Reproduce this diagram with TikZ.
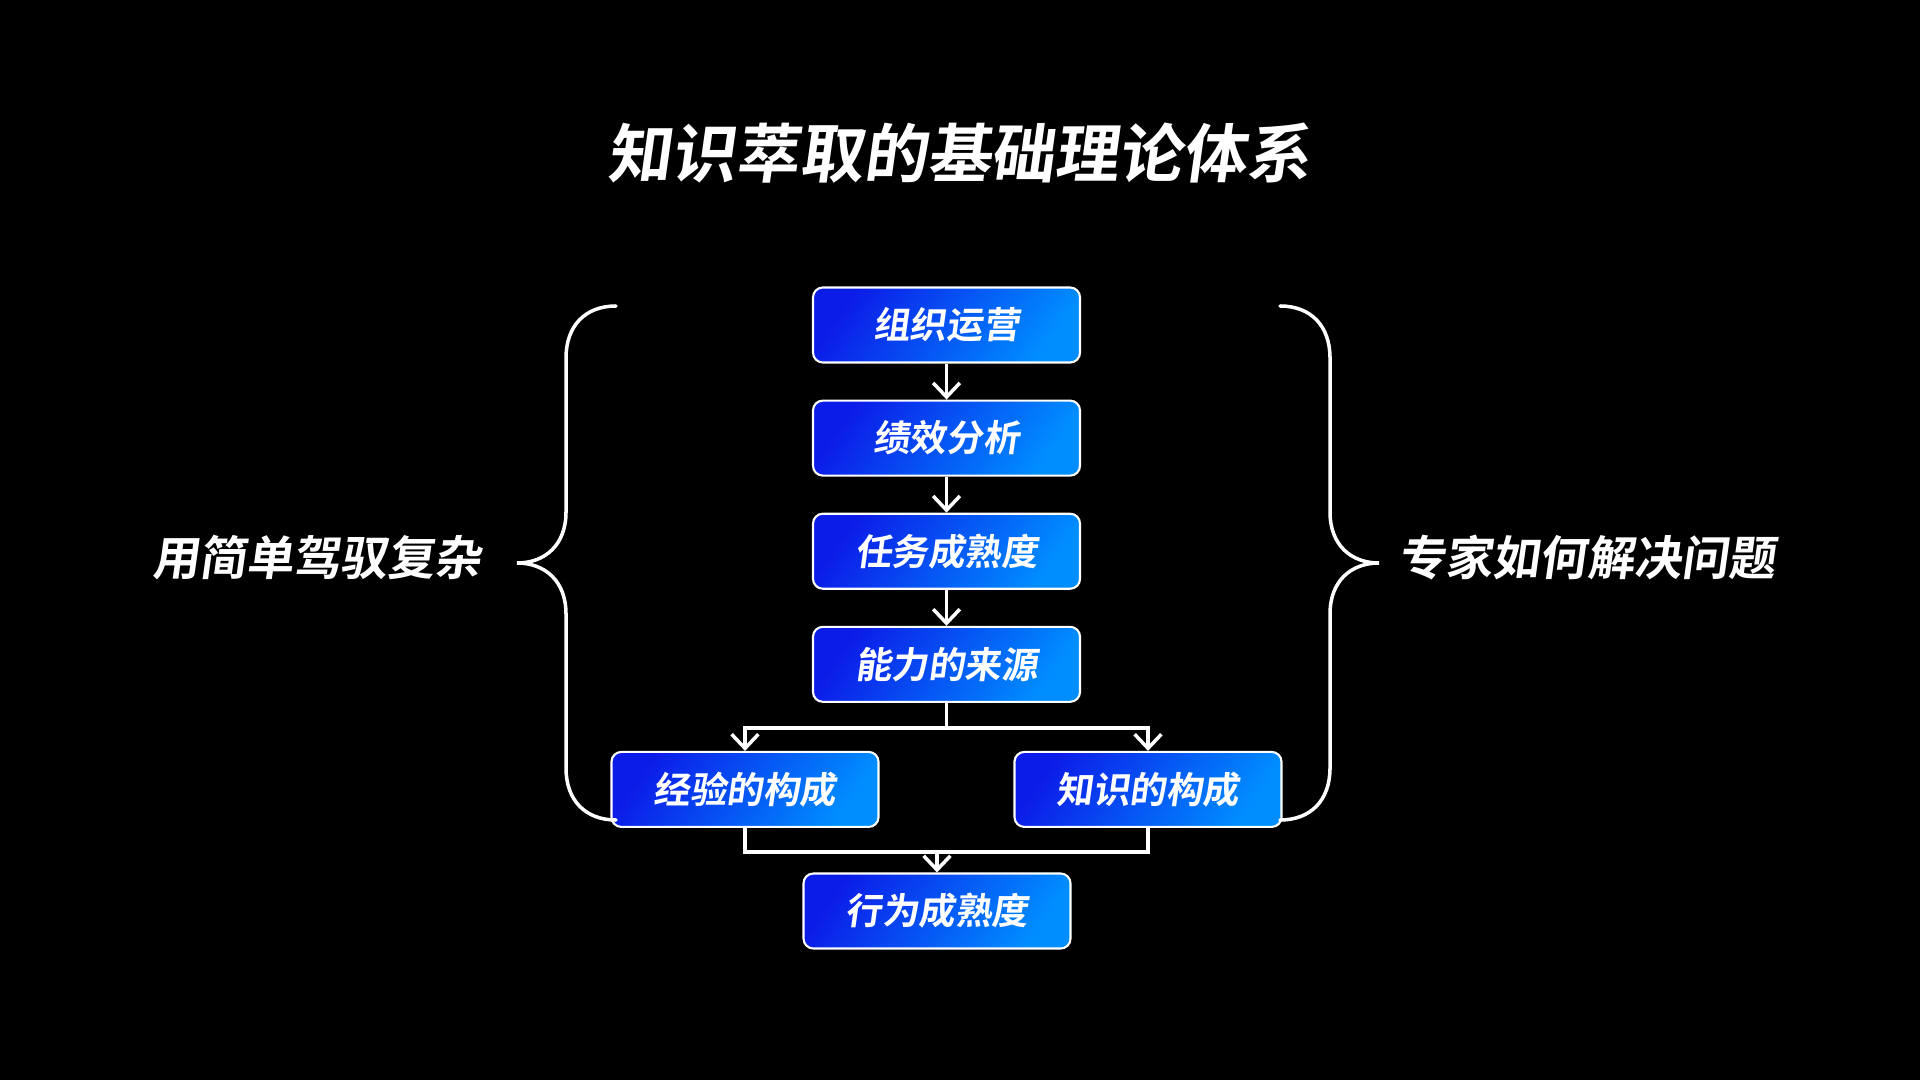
\documentclass[tikz,border=0pt]{standalone}
\usepackage{fontspec}
\usepackage{xcolor}
\usepackage{tikz}
\usetikzlibrary{arrows.meta, positioning, calc}
\newfontfamily\cjk[FakeSlant=0.14]{Noto Sans CJK SC Bold}
\definecolor{bgblack}{RGB}{0, 0, 0}
\definecolor{boxdeep}{RGB}{12, 28, 232}
\definecolor{boxlight}{RGB}{0, 142, 255}
\tikzset{
    stepbox/.style={rectangle, rounded corners=2.8pt, draw=white, line width=0.6pt, left color=boxdeep, right color=boxlight, shading angle=55, minimum width=2.67cm, minimum height=0.75cm, inner sep=0pt, text=white, font=\cjk\fontsize{10.4}{12}\selectfont},
    heading/.style={text=white, font=\cjk\fontsize{18.2}{22}\selectfont},
    sidetext/.style={text=white, font=\cjk\fontsize{13.4}{16}\selectfont},
    arrow/.style={white, line width=1pt, ->, >={Straight Barb[length=4pt, width=7.6pt]}},
    link/.style={white, line width=1pt},
    brace/.style={white, line width=1pt, line cap=round}
}
\begin{document}
\begin{tikzpicture}[node distance=0.36cm]
    \fill[bgblack] (0,0) rectangle (19.2,-10.8);
    \useasboundingbox (0,0) rectangle (19.2,-10.8);

    \node (title) [heading] at (9.59,-1.53) {知识萃取的基础理论体系};

    % main column
    \node (org) [stepbox] at (9.465,-3.25) {组织运营};
    \node (perf) [stepbox, below=of org] {绩效分析};
    \node (task) [stepbox, below=of perf] {任务成熟度};
    \node (ability) [stepbox, below=of task] {能力的来源};
    \node (exp) [stepbox, below=0.48cm of ability, xshift=-2.015cm] {经验的构成};
    \node (know) [stepbox, below=0.48cm of ability, xshift=2.015cm] {知识的构成};
    \node (behav) [stepbox] at (9.37,-9.11) {行为成熟度};

    \draw [arrow] (org) -- (perf);
    \draw [arrow] (perf) -- (task);
    \draw [arrow] (task) -- (ability);
    \draw [arrow] (ability.south) -- ++(0,-0.25) -| (exp.north);
    \draw [arrow] (ability.south) -- ++(0,-0.25) -| (know.north);
    \draw [link] (exp.south) -- ++(0,-0.24) coordinate (join) -| (know.south);
    \draw [arrow] (behav.north |- join) -- (behav.north);

    % side braces
    \draw [brace] (6.16,-3.06) .. controls (5.85,-3.06) and (5.66,-3.26) .. (5.66,-3.58) -- (5.66,-5.12)
        .. controls (5.66,-5.45) and (5.45,-5.63) .. (5.17,-5.63)
        .. controls (5.45,-5.63) and (5.66,-5.81) .. (5.66,-6.14) -- (5.66,-7.68)
        .. controls (5.66,-8.00) and (5.85,-8.20) .. (6.16,-8.20);
    \draw [brace] (12.80,-3.06) .. controls (13.11,-3.06) and (13.30,-3.26) .. (13.30,-3.58) -- (13.30,-5.12)
        .. controls (13.30,-5.45) and (13.51,-5.63) .. (13.79,-5.63)
        .. controls (13.51,-5.63) and (13.30,-5.81) .. (13.30,-6.14) -- (13.30,-7.68)
        .. controls (13.30,-8.00) and (13.11,-8.20) .. (12.80,-8.20);

    \node (simple) [sidetext] at (3.17,-5.58) {用简单驾驭复杂};
    \node (expert) [sidetext] at (15.87,-5.58) {专家如何解决问题};
\end{tikzpicture}
\end{document}
